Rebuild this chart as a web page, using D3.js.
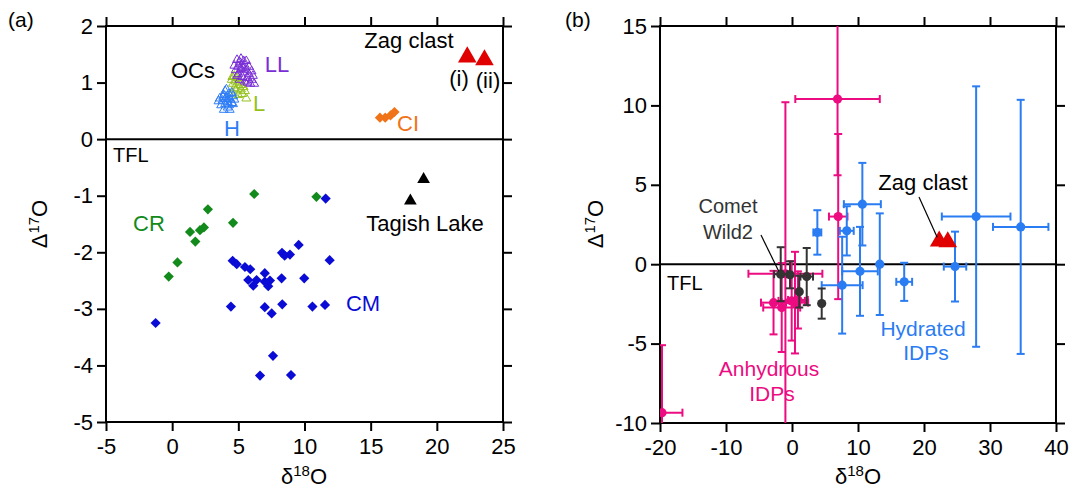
<!DOCTYPE html>
<html>
<head>
<meta charset="utf-8">
<script src="https://cdn.jsdelivr.net/npm/d3@7"></script>
<style>
body { margin: 0; background: #fff; }
svg { font-family: "Liberation Sans", Arial, sans-serif; }
.axis text { font-size: 22px; fill: #000; }
.axis line { stroke: #000; stroke-width: 2px; }
.axis path { display: none; }
</style>
</head>
<body>
<svg id="chart" width="1072" height="489"></svg>
<script>
// ---- panel (a) data : [d18O, D17O] ----
var hChondrites = [[3.6,0.72],[3.8,0.68],[3.9,0.78],[4.0,0.62],[4.1,0.74],[4.2,0.66],[4.3,0.80],[4.0,0.85],
  [3.7,0.60],[4.4,0.70],[4.5,0.64],[4.2,0.56],[3.9,0.52],[4.6,0.76],[4.3,0.60],[3.5,0.67],[4.1,0.88],
  [4.5,0.82],[4.7,0.70],[4.0,0.71],[4.35,0.52],[3.85,0.75],[4.25,0.72],[4.6,0.62]];
var lChondrites = [[4.5,1.05],[4.6,0.98],[4.8,1.02],[4.7,0.90],[5.0,0.95],[4.9,1.08],[5.2,0.88],[5.3,0.80],
  [5.6,0.72],[5.4,0.92],[4.6,0.82],[5.1,1.0],[4.8,0.86],[5.5,0.85],[4.55,1.1],[5.0,0.78],[4.7,1.12],[5.2,0.96]];
var llChondrites = [[4.9,1.40],[5.1,1.36],[5.3,1.32],[5.0,1.28],[5.5,1.30],[5.2,1.24],[4.8,1.22],[5.6,1.22],
  [5.4,1.18],[5.0,1.15],[5.8,1.15],[5.3,1.10],[5.7,1.08],[6.0,1.05],[5.5,1.02],[5.9,0.98],[6.2,0.98],
  [4.7,1.30],[5.2,1.42],[5.6,1.38],[5.8,1.28],[5.1,1.05],[6.1,1.12],[4.9,1.12],[5.4,1.38],[5.7,1.0],
  [5.35,1.26],[6.0,1.20]];
var ciChondrites = [[15.7,0.38],[16.1,0.38],[16.5,0.42],[16.8,0.48]];
var crChondrites = [[6.2,-0.97],[10.9,-1.02],[2.7,-1.24],[4.6,-1.48],[2.4,-1.56],[2.1,-1.61],[1.35,-1.64],
  [1.75,-1.81],[0.4,-2.18],[-0.26,-2.43]];
var cmChondrites = [[11.6,-1.05],[9.56,-1.87],[8.3,-2.01],[8.9,-2.04],[8.5,-2.06],[11.9,-2.14],[4.57,-2.15],
  [4.88,-2.21],[5.5,-2.26],[5.9,-2.3],[7.0,-2.37],[8.27,-2.46],[9.98,-2.46],[5.75,-2.49],[6.38,-2.49],
  [7.39,-2.5],[6.13,-2.59],[7.26,-2.6],[7.0,-2.52],[4.44,-2.96],[7.0,-2.97],[7.52,-3.08],[8.32,-2.92],
  [10.6,-2.96],[11.55,-2.93],[-1.25,-3.25],[7.62,-3.83],[6.64,-4.18],[8.98,-4.17]];
var tagishLake = [[19.0,-0.71],[18.0,-1.09]];
var zagClast = [[22.3,1.45],[23.6,1.40]];

// ---- panel (b) data : [d18O, D17O, err d18O, err D17O] ----
var anhydrousIDPs = [[6.9,10.4,6.4,4.8],[7.0,3.0,1.4,5.2],[-1.0,-0.6,5.6,10.8],[-2.8,-2.42,1.9,2.0],
  [-1.56,-2.73,2.8,2.8],[-0.05,-2.31,2.0,2.5],[0.45,-2.42,2.0,3.2],[0.9,-2.25,1.5,1.8],[-19.7,-9.35,3.1,4.25]];
var hydratedIDPs = [[27.9,3.0,5.2,8.2],[34.65,2.35,4.2,8.0],[10.66,3.78,2.8,2.6],[8.3,2.1,1.05,1.55],
  [3.84,2.0,0.6,1.4],[13.3,0.0,0,3.2],[10.3,-0.45,2.7,2.8],[7.6,-1.32,3.1,3.05],[17.0,-1.11,1.2,1.2],
  [24.7,-0.15,1.7,2.2]];
var cometWild2 = [[-1.71,-0.63,1.0,1.7],[-0.3,-0.67,0,0.85],[2.23,-0.78,0.95,1.8],[1.1,-1.73,0,1.0],
  [4.5,-2.48,0,0.95]];

var aTicksX = [-5,0,5,10,15,20,25], aTicksY = [-5,-4,-3,-2,-1,0,1,2];
var bTicksX = [-20,-10,0,10,20,30,40], bTicksY = [-10,-5,0,5,10,15];

var svg = d3.select("#chart");

function panel(id, xr, yr, xd, yd, tx, ty) {
  var x = d3.scaleLinear().domain(xd).range(xr);
  var y = d3.scaleLinear().domain(yd).range(yr);
  var g = svg.append("g");
  var fmt = function(d) { return String(d); };
  g.append("g").attr("class", "axis").attr("transform", "translate(0," + yr[0] + ")")
    .call(d3.axisBottom(x).tickValues(tx).tickSize(9).tickSizeOuter(0).tickPadding(7).tickFormat(fmt));
  g.append("g").attr("class", "axis").attr("transform", "translate(0," + yr[1] + ")")
    .call(d3.axisTop(x).tickValues(tx).tickSize(9).tickSizeOuter(0).tickFormat(""));
  g.append("g").attr("class", "axis").attr("transform", "translate(" + xr[0] + ",0)")
    .call(d3.axisLeft(y).tickValues(ty).tickSize(9).tickSizeOuter(0).tickPadding(4).tickFormat(fmt));
  g.append("g").attr("class", "axis").attr("transform", "translate(" + xr[1] + ",0)")
    .call(d3.axisRight(y).tickValues(ty).tickSize(9).tickSizeOuter(0).tickFormat(""));
  g.append("rect").attr("x", xr[0]).attr("y", yr[1]).attr("width", xr[1] - xr[0]).attr("height", yr[0] - yr[1])
    .attr("fill", "none").attr("stroke", "#000").attr("stroke-width", 2);
  // TFL
  g.append("line").attr("x1", xr[0]).attr("x2", xr[1]).attr("y1", y(0)).attr("y2", y(0))
    .attr("stroke", "#000").attr("stroke-width", 2);
  g.append("clipPath").attr("id", id).append("rect")
    .attr("x", xr[0]).attr("y", yr[1]).attr("width", xr[1] - xr[0]).attr("height", yr[0] - yr[1]);
  var plot = g.append("g").attr("clip-path", "url(#" + id + ")");
  return {x: x, y: y, g: g, plot: plot};
}

function label(g, txt, x, y, opts) {
  opts = opts || {};
  return g.append("text").attr("x", x).attr("y", y).text(txt)
    .attr("font-size", opts.size || 22).attr("fill", opts.color || "#000")
    .attr("text-anchor", opts.anchor || "middle");
}

function isoTitle(g, x, y, sym, mass, rotate) {
  var t = g.append("text").attr("font-size", 22).attr("text-anchor", "middle")
    .attr("transform", "translate(" + x + "," + y + ")" + (rotate ? " rotate(-90)" : ""));
  t.append("tspan").text(sym);
  t.append("tspan").attr("dy", -8).attr("font-size", 15).text(mass);
  t.append("tspan").attr("dy", 8).text("O");
}

////////// panel (a) //////////
var A = panel("clipA", [106, 503], [422, 26], [-5, 25], [-5, 2], aTicksX, aTicksY);
var tri = d3.symbol().type(d3.symbolTriangle);
var dia = d3.symbol().type(d3.symbolSquare).size(52);

function openTri(data, color) {
  A.plot.append("g").selectAll("path").data(data).join("path")
    .attr("d", tri.size(34)())
    .attr("transform", function(d) { return "translate(" + A.x(d[0]) + "," + A.y(d[1]) + ")"; })
    .attr("fill", "none").attr("stroke", color).attr("stroke-width", 1);
}
openTri(lChondrites, "#95c11f");
openTri(hChondrites, "#2f7df6");
openTri(llChondrites, "#7a2ed6");

function diamonds(data, color) {
  A.plot.append("g").selectAll("path").data(data).join("path")
    .attr("d", dia())
    .attr("transform", function(d) { return "translate(" + A.x(d[0]) + "," + A.y(d[1]) + ") rotate(45)"; })
    .attr("fill", color);
}
diamonds(ciChondrites, "#f07318");
diamonds(crChondrites, "#138a1c");
diamonds(cmChondrites, "#0b0bd6");

A.plot.append("g").selectAll("path").data(tagishLake).join("path")
  .attr("d", d3.symbol().type(d3.symbolTriangle).size(70)())
  .attr("transform", function(d) { return "translate(" + A.x(d[0]) + "," + A.y(d[1]) + ")"; })
  .attr("fill", "#000");
A.plot.append("g").selectAll("path").data(zagClast).join("path")
  .attr("d", d3.symbol().type(d3.symbolTriangle).size(150)())
  .attr("transform", function(d) { return "translate(" + A.x(d[0]) + "," + A.y(d[1]) + ")"; })
  .attr("fill", "#e00000");

label(svg, "(a)", 8, 27, {anchor: "start", size: 21});
label(A.g, "Zag clast", 409, 48);
label(A.g, "(i)", 459, 86);
label(A.g, "(ii)", 488, 88);
label(A.g, "OCs", 193, 78);
label(A.g, "LL", 277, 72, {color: "#7a2ed6"});
label(A.g, "L", 259, 111, {color: "#95c11f"});
label(A.g, "H", 232, 136, {color: "#2f7df6"});
label(A.g, "CI", 408, 131, {color: "#f07318"});
label(A.g, "TFL", 113, 162, {anchor: "start", size: 20});
label(A.g, "CR", 149, 231, {color: "#138a1c"});
label(A.g, "Tagish Lake", 425, 231);
label(A.g, "CM", 363, 311, {color: "#0b0bd6"});
isoTitle(svg, 304, 484, "\u03b4", "18", false);
isoTitle(svg, 47, 224, "\u0394", "17", true);

////////// panel (b) //////////
var B = panel("clipB", [660, 1056], [423, 26], [-20, 40], [-10, 15], bTicksX, bTicksY);

function errPoints(data, color) {
  var grp = B.plot.append("g").attr("stroke", color).attr("fill", color).attr("stroke-width", 2);
  var cap = 4;
  data.forEach(function(d) {
    var cx = B.x(d[0]), cy = B.y(d[1]);
    if (d[2] > 0) {
      var xl = B.x(d[0] - d[2]), xh = B.x(d[0] + d[2]);
      grp.append("line").attr("x1", xl).attr("x2", xh).attr("y1", cy).attr("y2", cy);
      grp.append("line").attr("x1", xl).attr("x2", xl).attr("y1", cy - cap).attr("y2", cy + cap);
      grp.append("line").attr("x1", xh).attr("x2", xh).attr("y1", cy - cap).attr("y2", cy + cap);
    }
    if (d[3] > 0) {
      var yl = B.y(d[1] - d[3]), yh = B.y(d[1] + d[3]);
      grp.append("line").attr("x1", cx).attr("x2", cx).attr("y1", yl).attr("y2", yh);
      grp.append("line").attr("x1", cx - cap).attr("x2", cx + cap).attr("y1", yl).attr("y2", yl);
      grp.append("line").attr("x1", cx - cap).attr("x2", cx + cap).attr("y1", yh).attr("y2", yh);
    }
  });
  grp.selectAll("circle").data(data).join("circle")
    .attr("cx", function(d) { return B.x(d[0]); })
    .attr("cy", function(d) { return B.y(d[1]); })
    .attr("r", 4.6).attr("stroke", "none");
}
errPoints(anhydrousIDPs, "#ec0b80");
errPoints(hydratedIDPs, "#2a7cf2");
errPoints(cometWild2, "#333333");

B.plot.append("g").selectAll("path").data(zagClast).join("path")
  .attr("d", d3.symbol().type(d3.symbolTriangle).size(150)())
  .attr("transform", function(d) { return "translate(" + B.x(d[0]) + "," + B.y(d[1]) + ")"; })
  .attr("fill", "#e00000");

// leader lines
B.g.append("line").attr("x1", 919).attr("y1", 197)
  .attr("x2", B.x(zagClast[0][0]) - 2).attr("y2", B.y(zagClast[0][1]) - 4)
  .attr("stroke", "#000").attr("stroke-width", 1.2);
B.g.append("line").attr("x1", 761).attr("y1", 235)
  .attr("x2", B.x(cometWild2[0][0]) - 2).attr("y2", B.y(cometWild2[0][1]) - 3)
  .attr("stroke", "#000").attr("stroke-width", 1.2);

label(svg, "(b)", 565, 27, {anchor: "start", size: 21});
label(B.g, "Zag clast", 923, 190);
label(B.g, "Comet", 728, 213, {color: "#333", size: 20});
label(B.g, "Wild2", 728, 239, {color: "#333", size: 20});
label(B.g, "TFL", 667, 290, {anchor: "start", size: 20});
label(B.g, "Hydrated", 923, 336, {color: "#2a7cf2", size: 21});
label(B.g, "IDPs", 926, 360, {color: "#2a7cf2", size: 21});
label(B.g, "Anhydrous", 769, 376, {color: "#ec0b80", size: 21});
label(B.g, "IDPs", 772, 401, {color: "#ec0b80", size: 21});
isoTitle(svg, 858, 484, "\u03b4", "18", false);
isoTitle(svg, 603, 224, "\u0394", "17", true);
</script>
</body>
</html>
